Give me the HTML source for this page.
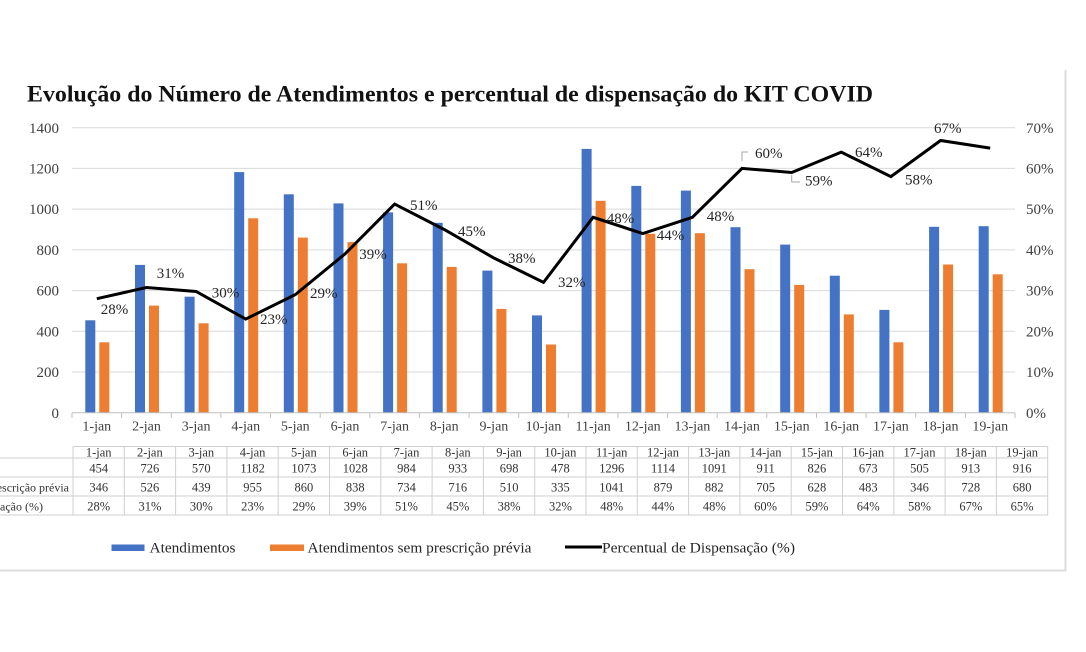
<!DOCTYPE html>
<html><head><meta charset="utf-8"><style>
html,body{margin:0;padding:0;background:#fff;}
svg{display:block;}
text{font-family:"Liberation Serif","Times New Roman",serif;}
</style></head><body>
<svg width="1086" height="652" viewBox="0 0 1086 652" xmlns="http://www.w3.org/2000/svg">
<rect width="1086" height="652" fill="#fff"/>
<!-- frame -->
<line x1="1065.5" y1="70" x2="1065.5" y2="571" stroke="#dcdcdc" stroke-width="2"/>
<line x1="0" y1="570.5" x2="1066" y2="570.5" stroke="#dcdcdc" stroke-width="2"/>
<!-- title -->
<text x="27" y="101.5" font-size="23" font-weight="bold" fill="#111" textLength="846" lengthAdjust="spacingAndGlyphs">Evolução do Número de Atendimentos e percentual de dispensação do KIT COVID</text>
<!-- gridlines -->
<g stroke="#d9d9d9" stroke-width="1">
<line x1="72" y1="127.7" x2="1015" y2="127.7"/>
<line x1="72" y1="168.4" x2="1015" y2="168.4"/>
<line x1="72" y1="209.1" x2="1015" y2="209.1"/>
<line x1="72" y1="249.9" x2="1015" y2="249.9"/>
<line x1="72" y1="290.6" x2="1015" y2="290.6"/>
<line x1="72" y1="331.3" x2="1015" y2="331.3"/>
<line x1="72" y1="372.0" x2="1015" y2="372.0"/>
</g>
<!-- left axis labels -->
<g font-size="15" fill="#404040" text-anchor="end">
<text x="59" y="133">1400</text>
<text x="59" y="173.5">1200</text>
<text x="59" y="214">1000</text>
<text x="59" y="255">800</text>
<text x="59" y="295.5">600</text>
<text x="59" y="336.5">400</text>
<text x="59" y="377">200</text>
<text x="59" y="418">0</text>
</g>
<!-- right axis labels -->
<g font-size="15" fill="#404040">
<text x="1026" y="133">70%</text>
<text x="1026" y="173.5">60%</text>
<text x="1026" y="214">50%</text>
<text x="1026" y="255">40%</text>
<text x="1026" y="295.5">30%</text>
<text x="1026" y="336.5">20%</text>
<text x="1026" y="377">10%</text>
<text x="1026" y="418">0%</text>
</g>
<!-- blue bars -->
<g fill="#4472C4">
<rect x="85.3" y="320.3" width="10" height="92.4"/>
<rect x="135.0" y="264.9" width="10" height="147.8"/>
<rect x="184.6" y="296.7" width="10" height="116.0"/>
<rect x="234.2" y="172.1" width="10" height="240.6"/>
<rect x="283.8" y="194.3" width="10" height="218.4"/>
<rect x="333.5" y="203.4" width="10" height="209.3"/>
<rect x="383.1" y="212.4" width="10" height="200.3"/>
<rect x="432.7" y="222.8" width="10" height="189.9"/>
<rect x="482.4" y="270.6" width="10" height="142.1"/>
<rect x="532.0" y="315.4" width="10" height="97.3"/>
<rect x="581.6" y="148.9" width="10" height="263.8"/>
<rect x="631.3" y="185.9" width="10" height="226.8"/>
<rect x="680.9" y="190.6" width="10" height="222.1"/>
<rect x="730.5" y="227.2" width="10" height="185.5"/>
<rect x="780.2" y="244.6" width="10" height="168.1"/>
<rect x="829.8" y="275.7" width="10" height="137.0"/>
<rect x="879.4" y="309.9" width="10" height="102.8"/>
<rect x="929.1" y="226.8" width="10" height="185.9"/>
<rect x="978.7" y="226.2" width="10" height="186.5"/>
</g>
<!-- orange bars -->
<g fill="#ED7D31">
<rect x="99.3" y="342.3" width="10" height="70.4"/>
<rect x="149.0" y="305.6" width="10" height="107.1"/>
<rect x="198.6" y="323.3" width="10" height="89.4"/>
<rect x="248.2" y="218.3" width="10" height="194.4"/>
<rect x="297.8" y="237.6" width="10" height="175.1"/>
<rect x="347.5" y="242.1" width="10" height="170.6"/>
<rect x="397.1" y="263.3" width="10" height="149.4"/>
<rect x="446.7" y="266.9" width="10" height="145.8"/>
<rect x="496.4" y="308.9" width="10" height="103.8"/>
<rect x="546.0" y="344.5" width="10" height="68.2"/>
<rect x="595.6" y="200.8" width="10" height="211.9"/>
<rect x="645.3" y="233.8" width="10" height="178.9"/>
<rect x="694.9" y="233.2" width="10" height="179.5"/>
<rect x="744.5" y="269.2" width="10" height="143.5"/>
<rect x="794.2" y="284.9" width="10" height="127.8"/>
<rect x="843.8" y="314.4" width="10" height="98.3"/>
<rect x="893.4" y="342.3" width="10" height="70.4"/>
<rect x="943.1" y="264.5" width="10" height="148.2"/>
<rect x="992.7" y="274.3" width="10" height="138.4"/>
</g>
<!-- x axis -->
<line x1="72" y1="412.7" x2="1015" y2="412.7" stroke="#bfbfbf" stroke-width="1"/>
<g stroke="#bfbfbf" stroke-width="1">
<line x1="72" y1="412.7" x2="72" y2="418"/><line x1="121.6" y1="412.7" x2="121.6" y2="418"/><line x1="171.3" y1="412.7" x2="171.3" y2="418"/><line x1="220.9" y1="412.7" x2="220.9" y2="418"/><line x1="270.5" y1="412.7" x2="270.5" y2="418"/><line x1="320.2" y1="412.7" x2="320.2" y2="418"/><line x1="369.8" y1="412.7" x2="369.8" y2="418"/><line x1="419.4" y1="412.7" x2="419.4" y2="418"/><line x1="469.1" y1="412.7" x2="469.1" y2="418"/><line x1="518.7" y1="412.7" x2="518.7" y2="418"/><line x1="568.3" y1="412.7" x2="568.3" y2="418"/><line x1="618.0" y1="412.7" x2="618.0" y2="418"/><line x1="667.6" y1="412.7" x2="667.6" y2="418"/><line x1="717.2" y1="412.7" x2="717.2" y2="418"/><line x1="766.8" y1="412.7" x2="766.8" y2="418"/><line x1="816.5" y1="412.7" x2="816.5" y2="418"/><line x1="866.1" y1="412.7" x2="866.1" y2="418"/><line x1="915.7" y1="412.7" x2="915.7" y2="418"/><line x1="965.4" y1="412.7" x2="965.4" y2="418"/><line x1="1015" y1="412.7" x2="1015" y2="418"/>
</g>
<g font-size="14" fill="#404040" text-anchor="middle">
<text x="96.8" y="430.5">1-jan</text>
<text x="146.5" y="430.5">2-jan</text>
<text x="196.1" y="430.5">3-jan</text>
<text x="245.7" y="430.5">4-jan</text>
<text x="295.3" y="430.5">5-jan</text>
<text x="345.0" y="430.5">6-jan</text>
<text x="394.6" y="430.5">7-jan</text>
<text x="444.2" y="430.5">8-jan</text>
<text x="493.9" y="430.5">9-jan</text>
<text x="543.5" y="430.5">10-jan</text>
<text x="593.1" y="430.5">11-jan</text>
<text x="642.8" y="430.5">12-jan</text>
<text x="692.4" y="430.5">13-jan</text>
<text x="742.0" y="430.5">14-jan</text>
<text x="791.7" y="430.5">15-jan</text>
<text x="841.3" y="430.5">16-jan</text>
<text x="890.9" y="430.5">17-jan</text>
<text x="940.6" y="430.5">18-jan</text>
<text x="990.2" y="430.5">19-jan</text>
</g>
<!-- callout leaders -->
<polyline points="742,161 742,152 748,152" fill="none" stroke="#a6a6a6" stroke-width="1"/>
<polyline points="791.7,175 791.7,182 800,182" fill="none" stroke="#a6a6a6" stroke-width="1"/>
<!-- line -->
<polyline points="96.8,298.7 146.5,287.5 196.1,291.5 245.7,319.1 295.3,294.6 345.0,253.9 394.6,204.1 444.2,229.5 493.9,258.0 543.5,282.4 593.1,217.3 642.8,233.6 692.4,217.3 742.0,168.4 791.7,172.5 841.3,152.1 890.9,176.6 940.6,140.5 990.2,148.1" fill="none" stroke="#000" stroke-width="3" stroke-linejoin="miter"/>
<!-- data labels -->
<g font-size="15" fill="#262626">
<text x="100.7" y="314">28%</text>
<text x="156.7" y="278">31%</text>
<text x="211.7" y="297.5">30%</text>
<text x="260" y="324">23%</text>
<text x="310" y="298">29%</text>
<text x="359.3" y="259">39%</text>
<text x="410" y="210">51%</text>
<text x="458" y="236">45%</text>
<text x="508" y="263">38%</text>
<text x="558" y="287">32%</text>
<text x="606.7" y="223">48%</text>
<text x="656.7" y="240">44%</text>
<text x="706.7" y="221">48%</text>
<text x="755" y="158">60%</text>
<text x="805" y="185.5">59%</text>
<text x="855" y="157">64%</text>
<text x="905" y="184.5">58%</text>
<text x="934" y="133">67%</text>
</g>
<!-- table -->
<g stroke="#cfcfcf" stroke-width="1" fill="none">
<line x1="73" y1="446.5" x2="1047.7" y2="446.5"/>
<line x1="0" y1="458" x2="1047.7" y2="458"/>
<line x1="0" y1="477" x2="1047.7" y2="477"/>
<line x1="0" y1="496" x2="1047.7" y2="496"/>
<line x1="0" y1="515" x2="1047.7" y2="515"/>
<line x1="73" y1="446.5" x2="73" y2="515"/><line x1="124.3" y1="446.5" x2="124.3" y2="515"/><line x1="175.6" y1="446.5" x2="175.6" y2="515"/><line x1="226.9" y1="446.5" x2="226.9" y2="515"/><line x1="278.2" y1="446.5" x2="278.2" y2="515"/><line x1="329.5" y1="446.5" x2="329.5" y2="515"/><line x1="380.8" y1="446.5" x2="380.8" y2="515"/><line x1="432.1" y1="446.5" x2="432.1" y2="515"/><line x1="483.4" y1="446.5" x2="483.4" y2="515"/><line x1="534.7" y1="446.5" x2="534.7" y2="515"/><line x1="586.0" y1="446.5" x2="586.0" y2="515"/><line x1="637.3" y1="446.5" x2="637.3" y2="515"/><line x1="688.6" y1="446.5" x2="688.6" y2="515"/><line x1="739.9" y1="446.5" x2="739.9" y2="515"/><line x1="791.2" y1="446.5" x2="791.2" y2="515"/><line x1="842.5" y1="446.5" x2="842.5" y2="515"/><line x1="893.8" y1="446.5" x2="893.8" y2="515"/><line x1="945.1" y1="446.5" x2="945.1" y2="515"/><line x1="996.4" y1="446.5" x2="996.4" y2="515"/><line x1="1047.7" y1="446.5" x2="1047.7" y2="515"/>
</g>
<g font-size="12" fill="#333">
<text x="-121" y="472.5">Atendimentos</text>
<text x="69" y="491.5" text-anchor="end">Atendimentos sem prescrição prévia</text>
<text x="43" y="510.5" text-anchor="end">Percentual de Dispensação (%)</text>
</g>
<g font-size="12.5" fill="#333" text-anchor="middle">
<text x="98.7" y="456.5">1-jan</text><text x="149.9" y="456.5">2-jan</text><text x="201.3" y="456.5">3-jan</text><text x="252.6" y="456.5">4-jan</text><text x="303.9" y="456.5">5-jan</text><text x="355.2" y="456.5">6-jan</text><text x="406.5" y="456.5">7-jan</text><text x="457.8" y="456.5">8-jan</text><text x="509.1" y="456.5">9-jan</text><text x="560.4" y="456.5">10-jan</text><text x="611.7" y="456.5">11-jan</text><text x="663.0" y="456.5">12-jan</text><text x="714.3" y="456.5">13-jan</text><text x="765.6" y="456.5">14-jan</text><text x="816.9" y="456.5">15-jan</text><text x="868.2" y="456.5">16-jan</text><text x="919.5" y="456.5">17-jan</text><text x="970.8" y="456.5">18-jan</text><text x="1022.1" y="456.5">19-jan</text>

<text x="98.7" y="472.5">454</text><text x="149.9" y="472.5">726</text><text x="201.3" y="472.5">570</text><text x="252.6" y="472.5">1182</text><text x="303.9" y="472.5">1073</text><text x="355.2" y="472.5">1028</text><text x="406.5" y="472.5">984</text><text x="457.8" y="472.5">933</text><text x="509.1" y="472.5">698</text><text x="560.4" y="472.5">478</text><text x="611.7" y="472.5">1296</text><text x="663.0" y="472.5">1114</text><text x="714.3" y="472.5">1091</text><text x="765.6" y="472.5">911</text><text x="816.9" y="472.5">826</text><text x="868.2" y="472.5">673</text><text x="919.5" y="472.5">505</text><text x="970.8" y="472.5">913</text><text x="1022.1" y="472.5">916</text>

<text x="98.7" y="491.5">346</text><text x="149.9" y="491.5">526</text><text x="201.3" y="491.5">439</text><text x="252.6" y="491.5">955</text><text x="303.9" y="491.5">860</text><text x="355.2" y="491.5">838</text><text x="406.5" y="491.5">734</text><text x="457.8" y="491.5">716</text><text x="509.1" y="491.5">510</text><text x="560.4" y="491.5">335</text><text x="611.7" y="491.5">1041</text><text x="663.0" y="491.5">879</text><text x="714.3" y="491.5">882</text><text x="765.6" y="491.5">705</text><text x="816.9" y="491.5">628</text><text x="868.2" y="491.5">483</text><text x="919.5" y="491.5">346</text><text x="970.8" y="491.5">728</text><text x="1022.1" y="491.5">680</text>

<text x="98.7" y="510.5">28%</text><text x="149.9" y="510.5">31%</text><text x="201.3" y="510.5">30%</text><text x="252.6" y="510.5">23%</text><text x="303.9" y="510.5">29%</text><text x="355.2" y="510.5">39%</text><text x="406.5" y="510.5">51%</text><text x="457.8" y="510.5">45%</text><text x="509.1" y="510.5">38%</text><text x="560.4" y="510.5">32%</text><text x="611.7" y="510.5">48%</text><text x="663.0" y="510.5">44%</text><text x="714.3" y="510.5">48%</text><text x="765.6" y="510.5">60%</text><text x="816.9" y="510.5">59%</text><text x="868.2" y="510.5">64%</text><text x="919.5" y="510.5">58%</text><text x="970.8" y="510.5">67%</text><text x="1022.1" y="510.5">65%</text>
</g>
<!-- legend -->
<rect x="111.5" y="544.5" width="33" height="6.5" fill="#4472C4"/>
<text x="149.5" y="552.5" font-size="15" fill="#262626" textLength="86" lengthAdjust="spacingAndGlyphs">Atendimentos</text>
<rect x="270" y="544.5" width="34" height="6.5" fill="#ED7D31"/>
<text x="307.5" y="552.5" font-size="15" fill="#262626" textLength="224" lengthAdjust="spacingAndGlyphs">Atendimentos sem prescrição prévia</text>
<line x1="565" y1="547" x2="602" y2="547" stroke="#000" stroke-width="3"/>
<text x="602" y="552.5" font-size="15" fill="#262626" textLength="193" lengthAdjust="spacingAndGlyphs">Percentual de Dispensação (%)</text>
</svg>
</body></html>
